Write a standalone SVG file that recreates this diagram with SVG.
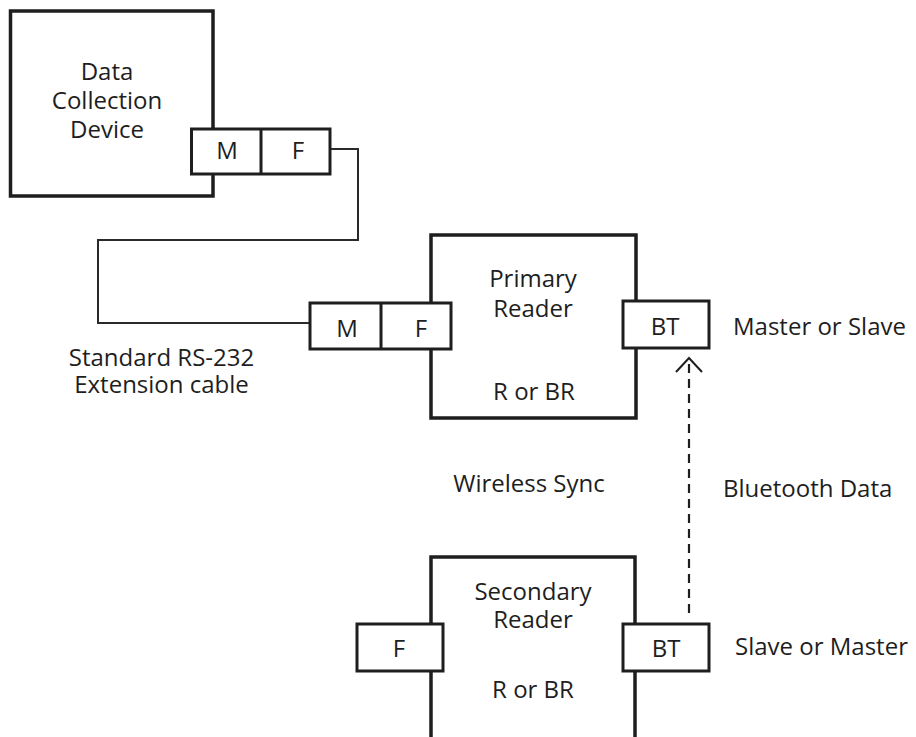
<svg xmlns="http://www.w3.org/2000/svg" width="916" height="737" viewBox="0 0 916 737">
<style>
.box{fill:#fff;stroke:#1e1e1e;stroke-width:3.5}
.port{fill:#fff;stroke:#1e1e1e;stroke-width:3}
.cable{fill:none;stroke:#2a2a2a;stroke-width:2}
.dash{fill:none;stroke:#1e1e1e;stroke-width:2.2;stroke-dasharray:9 6}
.head{fill:none;stroke:#1e1e1e;stroke-width:2}
text{font-family:"Open Sans","Liberation Sans",sans-serif;font-size:24px;fill:#1e1e1e}
.c{text-anchor:middle}
</style>
<rect width="916" height="737" fill="#fff"/>
<g id="connectors">
<polyline class="cable" points="330,149 358,149 358,240 98,240 98,323 310,323"/>
<line class="dash" x1="689" y1="613" x2="689" y2="362"/>
<polyline class="head" points="676,372 689,358 702,372"/>
</g>
<g id="data-collection-device">
<rect class="box" x="10.5" y="11" width="202.5" height="185"/>
<text class="c" x="107" y="80">Data</text>
<text class="c" x="107" y="109">Collection</text>
<text class="c" x="107" y="138">Device</text>
</g>
<g id="dcd-port">
<rect class="port" x="191.5" y="129" width="138.5" height="45"/>
<line class="port" x1="261" y1="129" x2="261" y2="174"/>
<text class="c" x="227" y="159">M</text>
<text class="c" x="298" y="159">F</text>
</g>
<g id="primary-reader">
<rect class="box" x="431" y="235" width="205" height="183"/>
<text class="c" x="533" y="287">Primary</text>
<text class="c" x="533" y="317">Reader</text>
<text class="c" x="534" y="400">R or BR</text>
</g>
<g id="primary-port">
<rect class="port" x="310" y="303" width="141" height="46"/>
<line class="port" x1="381" y1="303" x2="381" y2="349"/>
<text class="c" x="347" y="337">M</text>
<text class="c" x="421" y="337">F</text>
</g>
<g id="primary-bt">
<rect class="port" x="623" y="301" width="86" height="47"/>
<text class="c" x="665" y="335">BT</text>
</g>
<g id="secondary-reader">
<rect class="box" x="431" y="557" width="204" height="200"/>
<text class="c" x="533" y="600">Secondary</text>
<text class="c" x="533" y="628">Reader</text>
<text class="c" x="533" y="698">R or BR</text>
</g>
<g id="secondary-f">
<rect class="port" x="357" y="624" width="86" height="47"/>
<text class="c" x="399" y="657">F</text>
</g>
<g id="secondary-bt">
<rect class="port" x="623" y="624" width="86" height="47"/>
<text class="c" x="666" y="657">BT</text>
</g>
<g id="labels">
<text x="733" y="335">Master or Slave</text>
<text class="c" x="161.5" y="366">Standard RS-232</text>
<text class="c" x="161.5" y="393">Extension cable</text>
<text class="c" x="529" y="492">Wireless Sync</text>
<text x="723" y="497">Bluetooth Data</text>
<text x="735" y="655">Slave or Master</text>
</g>
</svg>
